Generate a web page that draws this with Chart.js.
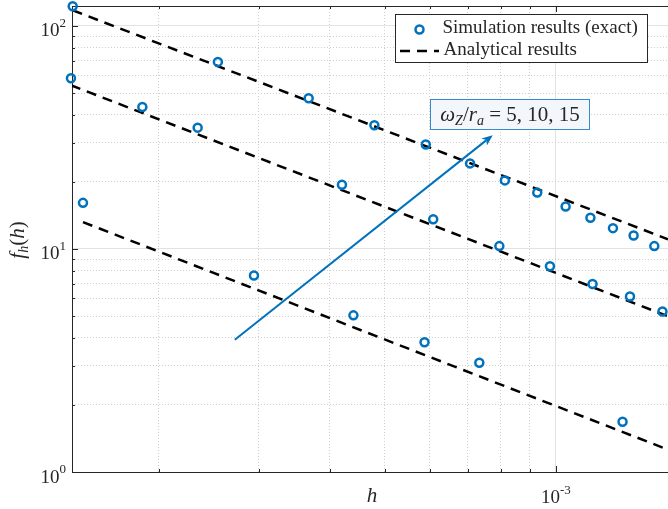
<!DOCTYPE html>
<html>
<head>
<meta charset="utf-8">
<script src="https://cdn.jsdelivr.net/npm/chart.js@4.4.0/dist/chart.umd.min.js"></script>
<style>
  html, body { margin: 0; padding: 0; background: #fff; }
</style>
</head>
<body>
<canvas id="chart" width="668" height="509"></canvas>
<script>
// simulation results (exact)
const hSim5  = [1.47e-4, 2.94e-4, 4.40e-4, 5.87e-4, 7.33e-4, 1.31e-3];
const fSim5  = [16.1, 7.60, 5.04, 3.82, 3.09, 1.68];
const hSim10 = [1.40e-4, 1.87e-4, 2.34e-4, 4.20e-4, 6.08e-4, 7.95e-4, 9.76e-4, 1.16e-3, 1.35e-3, 1.54e-3];
const fSim10 = [58.3, 43.3, 35.0, 19.4, 13.6, 10.3, 8.36, 6.97, 6.12, 5.24];
const hSim15 = [1.41e-4, 2.54e-4, 3.67e-4, 4.79e-4, 5.90e-4, 7.06e-4, 8.13e-4, 9.27e-4, 1.04e-3, 1.15e-3, 1.26e-3, 1.37e-3, 1.49e-3];
const fSim15 = [122.6, 69.0, 47.4, 35.9, 29.4, 24.2, 20.3, 17.9, 15.5, 13.8, 12.4, 11.5, 10.3];

// analytical results (straight lines in log-log), end points
const hAna5  = [1.47e-4, 1.575e-3];
const fAna5  = [13.2, 1.26];
const hAna10 = [1.40e-4, 1.575e-3];
const fAna10 = [54.2, 4.99];
const hAna15 = [1.41e-4, 1.575e-3];
const fAna15 = [117.6, 11.05];

// axes
const xMin = 1.406e-4, xMax = 1.575e-3;
const yMin = 1, yMax = 122.9;
const xTicks = [2e-4, 3e-4, 4e-4, 5e-4, 6e-4, 7e-4, 8e-4, 9e-4, 1e-3];
const yTicks = [1, 2, 3, 4, 5, 6, 7, 8, 9, 10, 20, 30, 40, 50, 60, 70, 80, 90, 100];
const xMajor = [1e-3];
const xMajorExp = ['-3'];
const yMajor = [1, 10, 100];
const yMajorExp = ['0', '1', '2'];

// annotation (data coords)
const arrowFrom = [2.72e-4, 3.92];
const arrowTo = [7.74e-4, 32.4];

const BLUE = '#0072BD';
const AXIS = '#262626';
const SERIF = '"Liberation Serif", "Times New Roman", serif';
const F = (size, italic) => (italic ? 'italic ' : '') + size + 'px ' + SERIF;

const pts = (xs, ys) => xs.map((x, i) => ({ x: x, y: ys[i] }));
const isMajor = v => Math.abs(Math.log10(v) - Math.round(Math.log10(v))) < 1e-9;

function runsWidth(ctx, runs) {
  let w = 0;
  runs.forEach(r => { ctx.font = r.font; w += ctx.measureText(r.t).width; });
  return w;
}
function drawRuns(ctx, runs, x, y) {
  runs.forEach(r => {
    ctx.font = r.font;
    ctx.fillText(r.t, x, y + (r.dy || 0));
    x += ctx.measureText(r.t).width;
  });
}

const simSet = (label, xs, ys) => ({
  label: label, data: pts(xs, ys), showLine: false, clip: false,
  pointStyle: 'circle', pointRadius: 4, pointHoverRadius: 4,
  pointBorderWidth: 2.5, borderColor: BLUE, backgroundColor: 'rgba(0,0,0,0)', order: 1
});
const anaSet = (label, xs, ys) => ({
  label: label, data: pts(xs, ys), showLine: true, pointRadius: 0,
  borderColor: '#000', borderWidth: 2.5, borderDash: [10, 7], order: 2
});

const figure = {
  id: 'figure',
  beforeDatasetsDraw(chart) {
    const ctx = chart.ctx, a = chart.chartArea;
    const xs = chart.scales.x, ys = chart.scales.y;
    ctx.save();
    ctx.strokeStyle = AXIS;
    ctx.lineWidth = 1;
    // box: left, bottom, top
    ctx.beginPath();
    ctx.moveTo(a.left, a.top + 0.5); ctx.lineTo(a.right, a.top + 0.5);
    ctx.moveTo(a.left, a.bottom + 0.5); ctx.lineTo(a.right, a.bottom + 0.5);
    ctx.moveTo(a.left + 0.5, a.top); ctx.lineTo(a.left + 0.5, a.bottom + 1);
    // inner tick marks
    xTicks.forEach(v => {
      const x = Math.round(xs.getPixelForValue(v)) + 0.5;
      const len = isMajor(v) ? 6 : 3;
      ctx.moveTo(x, a.bottom); ctx.lineTo(x, a.bottom - len);
      ctx.moveTo(x, a.top); ctx.lineTo(x, a.top + len);
    });
    yTicks.forEach(v => {
      const y = Math.round(ys.getPixelForValue(v)) + 0.5;
      const len = isMajor(v) ? 6 : 3;
      ctx.moveTo(a.left, y); ctx.lineTo(a.left + len, y);
    });
    ctx.stroke();

    // tick labels
    ctx.fillStyle = AXIS;
    ctx.textAlign = 'left';
    ctx.textBaseline = 'alphabetic';
    yMajor.forEach((v, i) => {
      const y = ys.getPixelForValue(v);
      const runs = [{ t: '10', font: F(19) }, { t: yMajorExp[i], font: F(13), dy: -9.5 }];
      drawRuns(ctx, runs, 66 - runsWidth(ctx, runs), y + 10.5);
    });
    xMajor.forEach((v, i) => {
      const x = xs.getPixelForValue(v);
      const runs = [{ t: '10', font: F(19) }, { t: xMajorExp[i], font: F(13), dy: -9.5 }];
      drawRuns(ctx, runs, x - runsWidth(ctx, runs) / 2, a.bottom + 31);
    });

    // axis titles
    ctx.font = F(21, true);
    ctx.textAlign = 'center';
    ctx.fillText('h', 372, 502);
    ctx.textAlign = 'left';
    const yt = [
      { t: 'f', font: F(21, true) }, { t: 'h', font: F(14, true), dy: 4 },
      { t: '(', font: F(21) }, { t: 'h', font: F(21, true) }, { t: ')', font: F(21) }
    ];
    ctx.save();
    ctx.translate(24, 240);
    ctx.rotate(-Math.PI / 2);
    drawRuns(ctx, yt, -runsWidth(ctx, yt) / 2, 0);
    ctx.restore();
    ctx.restore();
  },
  afterDatasetsDraw(chart) {
    const ctx = chart.ctx;
    const xs = chart.scales.x, ys = chart.scales.y;
    const x0 = xs.getPixelForValue(arrowFrom[0]), y0 = ys.getPixelForValue(arrowFrom[1]);
    const x1 = xs.getPixelForValue(arrowTo[0]), y1 = ys.getPixelForValue(arrowTo[1]);
    const ang = Math.atan2(y1 - y0, x1 - x0);
    const hl = 11, hw = 4.5;
    ctx.save();
    ctx.strokeStyle = BLUE;
    ctx.fillStyle = BLUE;
    ctx.lineWidth = 2;
    ctx.beginPath();
    ctx.moveTo(x0, y0);
    ctx.lineTo(x1 - (hl - 3) * Math.cos(ang), y1 - (hl - 3) * Math.sin(ang));
    ctx.stroke();
    ctx.translate(x1, y1);
    ctx.rotate(ang);
    ctx.beginPath();
    ctx.moveTo(0, 0);
    ctx.lineTo(-hl, -hw);
    ctx.lineTo(-hl + 3, 0);
    ctx.lineTo(-hl, hw);
    ctx.closePath();
    ctx.fill();
    ctx.restore();
  },
  afterDraw(chart) {
    const ctx = chart.ctx;
    ctx.save();
    // text box
    ctx.fillStyle = '#f3f6fb';
    ctx.fillRect(430.5, 99.5, 159, 30);
    ctx.strokeStyle = '#3a8ad0';
    ctx.lineWidth = 1;
    ctx.strokeRect(430.5, 99.5, 159, 30);
    ctx.fillStyle = AXIS;
    ctx.textAlign = 'left';
    ctx.textBaseline = 'alphabetic';
    const ann = [
      { t: 'ω', font: F(21, true) }, { t: 'Z', font: F(14, true), dy: 4 },
      { t: '/', font: F(21) }, { t: 'r', font: F(21, true) },
      { t: 'a', font: F(14, true), dy: 4 }, { t: ' = 5, 10, 15', font: F(21) }
    ];
    drawRuns(ctx, ann, 510 - runsWidth(ctx, ann) / 2, 121);

    // legend
    ctx.fillStyle = '#fff';
    ctx.fillRect(395.5, 14.5, 252, 48);
    ctx.strokeStyle = AXIS;
    ctx.strokeRect(395.5, 14.5, 252, 48);
    ctx.strokeStyle = BLUE;
    ctx.lineWidth = 2.5;
    ctx.beginPath();
    ctx.arc(419.5, 29.5, 4, 0, Math.PI * 2);
    ctx.stroke();
    ctx.strokeStyle = '#000';
    ctx.setLineDash([10, 7]);
    ctx.beginPath();
    ctx.moveTo(400, 51); ctx.lineTo(439, 51);
    ctx.stroke();
    ctx.setLineDash([]);
    ctx.fillStyle = AXIS;
    ctx.font = F(19);
    ctx.fillText('Simulation results (exact)', 442.5, 33);
    ctx.fillText('Analytical results', 443.5, 55);
    ctx.restore();
  }
};

const gridColor = c => (c.tick && isMajor(c.tick.value)) ? '#e2e2e2' : '#cfcfcf';
const gridDash = c => (c.tick && !isMajor(c.tick.value)) ? [1, 2] : [];

new Chart(document.getElementById('chart'), {
  type: 'scatter',
  data: {
    datasets: [
      simSet('Simulation results (exact)', hSim5, fSim5),
      simSet('sim10', hSim10, fSim10),
      simSet('sim15', hSim15, fSim15),
      anaSet('Analytical results', hAna5, fAna5),
      anaSet('ana10', hAna10, fAna10),
      anaSet('ana15', hAna15, fAna15)
    ]
  },
  options: {
    responsive: false,
    animation: false,
    layout: { autoPadding: false, padding: { top: 6, right: 0, left: 0, bottom: 0 } },
    plugins: { legend: { display: false }, tooltip: { enabled: false } },
    scales: {
      x: {
        type: 'logarithmic', min: xMin, max: xMax,
        afterBuildTicks: s => { s.ticks = xTicks.map(v => ({ value: v })); },
        afterFit: s => { s.height = 37; },
        ticks: { display: false },
        grid: { drawTicks: false, color: gridColor, lineWidth: 1 },
        border: { display: false, dash: gridDash }
      },
      y: {
        type: 'logarithmic', min: yMin, max: yMax,
        afterBuildTicks: s => { s.ticks = yTicks.map(v => ({ value: v })); },
        afterFit: s => { s.width = 72; },
        ticks: { display: false },
        grid: { drawTicks: false, color: gridColor, lineWidth: 1 },
        border: { display: false, dash: gridDash }
      }
    }
  },
  plugins: [figure]
});
</script>
</body>
</html>
